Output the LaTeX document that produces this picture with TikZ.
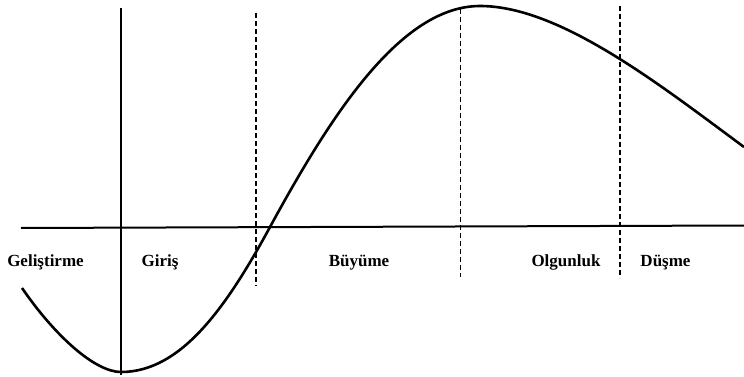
\documentclass[tikz,border=0pt]{standalone}
\usepackage{fontspec}
\setmainfont{Liberation Serif}
\usetikzlibrary{positioning, calc}

\begin{document}
\begin{tikzpicture}[
      x=1pt, y=-1pt,
      every node/.style={font=\bfseries\fontsize{17}{20}\selectfont, inner sep=0pt},
      axisline/.style={line width=2pt},
      phaseline/.style={line width=1.9pt, dash pattern=on 5pt off 3pt},
      lifecurve/.style={line width=2.6pt},
    ]
    \useasboundingbox (0,0) rectangle (744,377);

    % axes
    \coordinate (axL) at (21,228);
    \coordinate (axR) at (744,225.5);
    \coordinate (intT) at (121,8);
    \coordinate (intB) at (121,375);
    \draw[axisline] (axL) -- (axR);
    \draw[axisline] (intT) -- (intB);

    % phase borders
    \coordinate (grT) at (256,13);  \coordinate (grB) at (256,286);
    \coordinate (maT) at (460.5,9); \coordinate (maB) at (460.5,277);
    \coordinate (deT) at (620,6);   \coordinate (deB) at (620,278);
    \draw[phaseline] (grT) -- (grB);
    \draw[phaseline] (maT) -- (maB);
    \draw[phaseline] (deT) -- (deB);

    % sales curve
    \draw[lifecurve] (22,288) .. controls (55,336) and (95,372) .. (121,372)
      .. controls (180,372) and (225,310) .. (270,227)
      .. controls (330,117) and (400,6) .. (480,6)
      .. controls (560,6) and (660,85) .. (744,147);

    \node[anchor=base] (gel) at (45.5,266) {Geliştirme};
    \node[anchor=base] (gir) at (160,266) {Giriş};
    \node[anchor=base] (buy) at (359,266) {Büyüme};
    \node[anchor=base] (olg) at (566,266) {Olgunluk};
    \node[anchor=base] (dus) at (665.5,266) {Düşme};
  \end{tikzpicture}
\end{document}
